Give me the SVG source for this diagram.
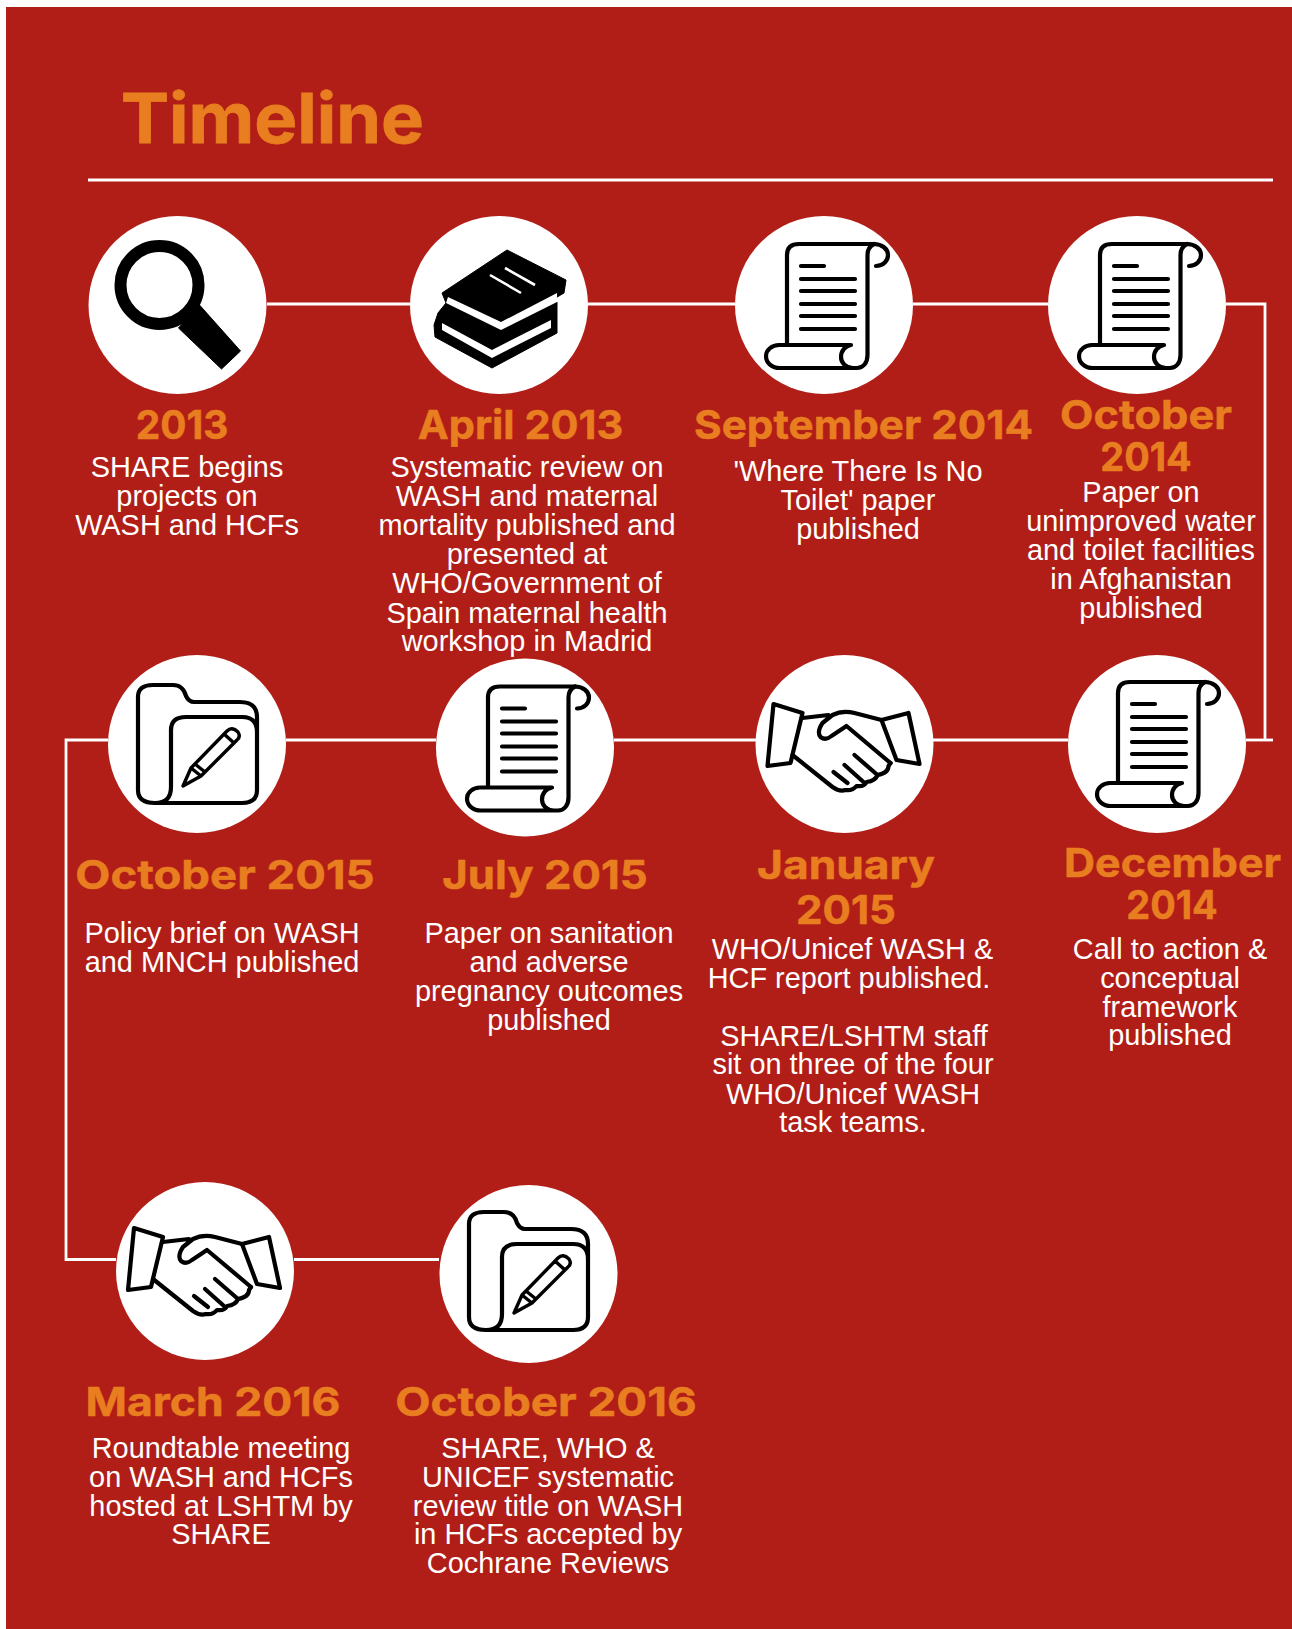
<svg xmlns="http://www.w3.org/2000/svg" width="1292" height="1629" viewBox="0 0 1292 1629">
<style>
.bg{fill:#b11e17}
.c{fill:#fff}
.k{fill:none;stroke:#fff;stroke-width:2.8}
.h{font-family:"Inter","Liberation Sans",sans-serif;font-weight:700;font-size:40px;fill:#e87e1f;stroke:#e87e1f;stroke-width:.5;text-anchor:middle}
.b{font-family:"Liberation Sans",Arial,sans-serif;font-size:28.9px;fill:#fff;text-anchor:middle}
.t{font-family:"Inter","Liberation Sans",sans-serif;font-weight:700;font-size:69px;fill:#e87e1f;stroke:#e87e1f;stroke-width:.8}
.i{fill:none;stroke:#000;stroke-width:4.2;stroke-linecap:round;stroke-linejoin:round}
.f{fill:#000;stroke:#000;stroke-width:1;stroke-linejoin:round}
.w{fill:#fff}
</style>
<defs>
<g id="icon-scroll" class="i">
<path d="M-37 39V-50Q-37 -61 -25 -61H50C58 -61 64 -56 64 -50C64 -44 59 -39 52 -39"/>
<path d="M50 -61C46 -59 43.500 -55 43.500 -50V50C43.500 58 39 63 33 63H-44C-52 63 -58 58 -58 51C-58 45 -52 40 -45 40H27C21 41 17 46 17 52C17 58 22 63 29 63"/>
<path d="M-23 -39H0M-23 -26H31M-23 -14H31M-23 -1H31M-23 11H31M-23 24H31"/>
</g>
<g id="icon-folder" class="i">
<path d="M-42 59H45Q60 59 60 46V-27Q60 -42 43 -42H-3Q-8 -42 -11 -48Q-14 -59 -24 -59H-44Q-59 -59 -59 -47V46Q-59 59 -42 59Q-26 59 -26 43V-14Q-26 -27 -11 -27H45Q60 -27 60 -12"/>
<path stroke-width="3.4" d="M-14 42L-6 24L30 -13Q35 -18 41 -12Q44 -7 40 -4L4 32ZM-6 24L4 32M-2 20L8 28M27 -10L37 -1"/>
</g>
<g id="icon-hands" class="i">
<path d="M-71 -40L-42 -31L-54 19L-77 22Z"/>
<path d="M37 -24L64 -31L75 20L52 16Z"/>
<path d="M-42 -26L-16 -29M37 -24L10 -31Q-2 -34 -12 -29L-22 -21Q-28 -12 -24 -7Q-19 -3 -13 -8L2 -18L46 19"/>
<path d="M-52 11L-12 43Q-5 48 1 46Q8 47 12 42Q20 43 22 38Q31 37 33 31Q44 29 44 22L46 19"/>
<path d="M-11 28L3 39M0 21L19 38M10 11L33 31"/>
</g>
<g id="icon-lens">
<circle cx="-18" cy="-20" r="39" fill="none" stroke="#000" stroke-width="12"/>
<path class="f" d="M22 0L63 46L44 64L1 23Z"/>
</g>
<g id="icon-books">
<path class="f" d="M58 -3V28L-7 63L-64 32L-65 20L-61 8L-53 -2Z"/>
<path class="f" d="M8 -55L-57 -12L-53 -2L2 25L65 -12L67 -25Z"/>
<path class="w" d="M-51 -8L2 17L58 -12V-3L2 25L-53 -2Z"/>
<path class="w" d="M-57 18L-7 45L52 15V23L-7 53L-57 25Z"/>
<path d="M-9 -30L22 -12M6 -37L36 -20" stroke="#fff" stroke-width="2.6" fill="none"/>
</g>
</defs>
<rect x="6" y="7" width="1286" height="1622" class="bg"/>
<g id="header">
<text class="t" x="121" y="143" textLength="303" lengthAdjust="spacingAndGlyphs">Timeline</text>
<line class="k" x1="88" y1="180" x2="1273" y2="180"/>
</g>
<g id="connectors">
<path class="k" d="M267 304H410"/>
<path class="k" d="M588 304H735"/>
<path class="k" d="M913 304H1048"/>
<path class="k" d="M1226 304H1265V740"/>
<path class="k" d="M1246 740H1273"/>
<path class="k" d="M1068 740H933"/>
<path class="k" d="M756 740H614"/>
<path class="k" d="M436 740H286"/>
<path class="k" d="M108 740H66V1259.500H116"/>
<path class="k" d="M294 1259.500H439"/>
</g>
<g id="node-2013">
<circle class="c" cx="177.500" cy="305" r="89"/>
<use href="#icon-lens" x="177.500" y="305"/>
<text class="h" x="182" y="439" textLength="92.500" lengthAdjust="spacingAndGlyphs">2013</text>
<text class="b" x="187" y="477">SHARE begins</text>
<text class="b" x="187" y="506">projects on</text>
<text class="b" x="187" y="535">WASH and HCFs</text>
</g>
<g id="node-apr-2013">
<circle class="c" cx="499" cy="305" r="89"/>
<use href="#icon-books" x="499" y="305"/>
<text class="h" x="520.500" y="439" textLength="205.500" lengthAdjust="spacingAndGlyphs">April 2013</text>
<text class="b" x="527" y="477">Systematic review on</text>
<text class="b" x="527" y="506">WASH and maternal</text>
<text class="b" x="527" y="535">mortality published and</text>
<text class="b" x="527" y="564">presented at</text>
<text class="b" x="527" y="593">WHO/Government of</text>
<text class="b" x="527" y="623">Spain maternal health</text>
<text class="b" x="527" y="651">workshop in Madrid</text>
</g>
<g id="node-sep-2014">
<circle class="c" cx="824" cy="305" r="89"/>
<use href="#icon-scroll" x="824" y="305"/>
<text class="h" x="863.500" y="439" textLength="339" lengthAdjust="spacingAndGlyphs">September 2014</text>
<text class="b" x="858" y="481">'Where There Is No</text>
<text class="b" x="858" y="510">Toilet' paper</text>
<text class="b" x="858" y="539">published</text>
</g>
<g id="node-oct-2014">
<circle class="c" cx="1137" cy="305" r="89"/>
<use href="#icon-scroll" x="1137" y="305"/>
<text class="h" x="1146" y="429" textLength="172" lengthAdjust="spacingAndGlyphs">October</text>
<text class="h" x="1146" y="471" textLength="91.500" lengthAdjust="spacingAndGlyphs">2014</text>
<text class="b" x="1141" y="502">Paper on</text>
<text class="b" x="1141" y="531">unimproved water</text>
<text class="b" x="1141" y="560">and toilet facilities</text>
<text class="b" x="1141" y="589">in Afghanistan</text>
<text class="b" x="1141" y="618">published</text>
</g>
<g id="node-dec-2014">
<circle class="c" cx="1157" cy="744" r="89"/>
<use href="#icon-scroll" x="1155" y="743"/>
<text class="h" x="1172.500" y="877" textLength="217" lengthAdjust="spacingAndGlyphs">December</text>
<text class="h" x="1172" y="919" textLength="91.500" lengthAdjust="spacingAndGlyphs">2014</text>
<text class="b" x="1170" y="959">Call to action &amp;</text>
<text class="b" x="1170" y="988">conceptual</text>
<text class="b" x="1170" y="1017">framework</text>
<text class="b" x="1170" y="1045">published</text>
</g>
<g id="node-jan-2015">
<circle class="c" cx="844.500" cy="744" r="89"/>
<use href="#icon-hands" x="844.500" y="744"/>
<text class="h" x="846" y="879" textLength="178" lengthAdjust="spacingAndGlyphs">January</text>
<text class="h" x="846" y="924" textLength="100" lengthAdjust="spacingAndGlyphs">2015</text>
<text class="b" x="852.500" y="959">WHO/Unicef WASH &amp;</text>
<text class="b" x="849" y="988">HCF report published.</text>
<text class="b" x="854" y="1046">SHARE/LSHTM staff</text>
<text class="b" x="853" y="1074">sit on three of the four</text>
<text class="b" x="853" y="1104">WHO/Unicef WASH</text>
<text class="b" x="853" y="1132">task teams.</text>
</g>
<g id="node-jul-2015">
<circle class="c" cx="525" cy="747.500" r="89"/>
<use href="#icon-scroll" x="525" y="747.500"/>
<text class="h" x="545" y="889" textLength="205.500" lengthAdjust="spacingAndGlyphs">July 2015</text>
<text class="b" x="549" y="943">Paper on sanitation</text>
<text class="b" x="549" y="972">and adverse</text>
<text class="b" x="549" y="1001">pregnancy outcomes</text>
<text class="b" x="549" y="1030">published</text>
</g>
<g id="node-oct-2015">
<circle class="c" cx="197" cy="744" r="89"/>
<use href="#icon-folder" x="197" y="744"/>
<text class="h" x="225" y="889" textLength="299.400" lengthAdjust="spacingAndGlyphs">October 2015</text>
<text class="b" x="222" y="943">Policy brief on WASH</text>
<text class="b" x="222" y="972">and MNCH published</text>
</g>
<g id="node-mar-2016">
<circle class="c" cx="205" cy="1271" r="89"/>
<use href="#icon-hands" x="205" y="1268"/>
<text class="h" x="213" y="1416" textLength="255" lengthAdjust="spacingAndGlyphs">March 2016</text>
<text class="b" x="221" y="1458">Roundtable meeting</text>
<text class="b" x="221" y="1487">on WASH and HCFs</text>
<text class="b" x="221" y="1516">hosted at LSHTM by</text>
<text class="b" x="221" y="1544">SHARE</text>
</g>
<g id="node-oct-2016">
<circle class="c" cx="528.500" cy="1274" r="89"/>
<use href="#icon-folder" x="528" y="1271"/>
<text class="h" x="546" y="1416" textLength="301.400" lengthAdjust="spacingAndGlyphs">October 2016</text>
<text class="b" x="548" y="1458">SHARE, WHO &amp;</text>
<text class="b" x="548" y="1487">UNICEF systematic</text>
<text class="b" x="548" y="1516">review title on WASH</text>
<text class="b" x="548" y="1544">in HCFs accepted by</text>
<text class="b" x="548" y="1573">Cochrane Reviews</text>
</g>
</svg>
